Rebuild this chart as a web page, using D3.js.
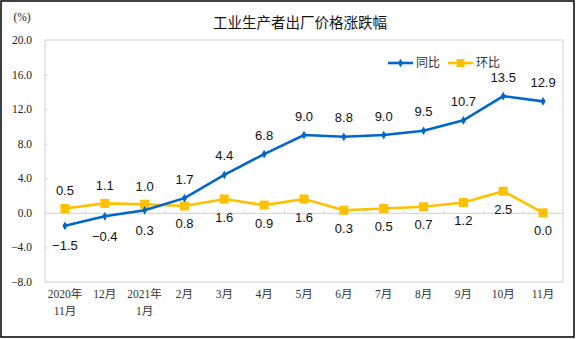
<!DOCTYPE html>
<html><head><meta charset="utf-8">
<script src="https://cdn.jsdelivr.net/npm/d3@7"></script>
<style>body{margin:0;background:#fff}svg{display:block}</style>
</head><body>
<svg id="c" width="576" height="339"></svg>
<script>
const categories = ["2020年\n11月","12月","2021年\n1月","2月","3月","4月","5月","6月","7月","8月","9月","10月","11月"];
const yoy = [-1.5,-0.4,0.3,1.7,4.4,6.8,9.0,8.8,9.0,9.5,10.7,13.5,12.9];
const mom = [0.5,1.1,1.0,0.8,1.6,0.9,1.6,0.3,0.5,0.7,1.2,2.5,0.0];
const yTicks = [-8,-4,0,4,8,12,16,20];
const seriesNames = ["同比","环比"];
const title = "工业生产者出厂价格涨跌幅";
const unit = "(%)";

const svg = d3.select("#c");
const L=45, R=563, T=40, B=282;
const blue="#0066CC", yellow="#FFC000";
const x = d3.scaleBand().domain(d3.range(categories.length)).range([L,R]);
const y = d3.scaleLinear().domain([-8,20]).range([B,T]);
const cx = i => x(i)+x.bandwidth()/2;

svg.append("rect").attr("x",1).attr("y",1).attr("width",573).attr("height",336)
  .attr("fill","#fff").attr("stroke","#000").attr("stroke-width",1.5);

// plot frame
svg.append("rect").attr("x",L).attr("y",T).attr("width",R-L).attr("height",B-T)
  .attr("fill","none").attr("stroke","#d9d9d9").attr("stroke-width",1.2);

// y axis
const ya = svg.append("g").attr("transform",`translate(${L},0)`)
  .call(d3.axisRight(y).tickValues(yTicks).tickSize(3).tickFormat(""));
ya.select(".domain").remove();
ya.selectAll("line").attr("stroke","#d9d9d9");
svg.append("g").selectAll("text").data(yTicks).join("text")
  .attr("x",32).attr("y",d=>y(d)).attr("dy","0.35em").attr("text-anchor","end")
  .attr("font-family","Liberation Serif, serif").attr("font-size",11.5).attr("fill","#222")
  .text(d=>d3.format(".1f")(d));
svg.append("text").attr("x",22).attr("y",21).attr("text-anchor","middle")
  .attr("font-family","Liberation Serif, serif").attr("font-size",11.5).attr("fill","#222").text(unit);

// zero line with ticks
const xa = svg.append("g").attr("transform",`translate(0,${y(0)})`)
  .call(d3.axisTop(d3.scaleLinear().domain([0,categories.length]).range([L,R]))
    .tickValues(d3.range(1,categories.length)).tickSize(3).tickSizeOuter(0).tickFormat(""));
xa.select(".domain").attr("stroke","#d9d9d9").attr("stroke-width",1.2);
xa.selectAll("line").attr("stroke","#d9d9d9");

// x labels
const xl = svg.append("g").selectAll("text").data(categories).join("text")
  .attr("x",(d,i)=>cx(i)).attr("y",298).attr("text-anchor","middle")
  .attr("font-family","Liberation Serif, 'Noto Sans CJK SC', serif").attr("font-size",11.5).attr("fill","#333");
xl.each(function(d){
  const parts=d.split("\n"); const t=d3.select(this);
  parts.forEach((p,k)=>t.append("tspan").attr("x",t.attr("x")).attr("dy",k?17:0).text(p));
});

// title
svg.append("text").attr("x",300).attr("y",28).attr("text-anchor","middle")
  .attr("font-family","'Noto Sans CJK SC', sans-serif").attr("font-size",14.5).attr("fill","#111").text(title);

const line = d3.line().x((d,i)=>cx(i)).y(d=>y(d));
// mom
svg.append("path").datum(mom).attr("d",line).attr("fill","none").attr("stroke",yellow).attr("stroke-width",2.6);
svg.append("g").selectAll("rect").data(mom).join("rect")
  .attr("x",(d,i)=>cx(i)-4.5).attr("y",d=>y(d)-4.5).attr("width",9).attr("height",9).attr("fill",yellow);
// yoy
svg.append("path").datum(yoy).attr("d",line).attr("fill","none").attr("stroke",blue).attr("stroke-width",2.6);
svg.append("g").selectAll("path").data(yoy).join("path")
  .attr("d",d3.symbol(d3.symbolDiamond,22)).attr("transform",(d,i)=>`translate(${cx(i)},${y(d)})`).attr("fill",blue);

const lblFont="Liberation Sans, Arial, sans-serif";
svg.append("g").selectAll("text").data(yoy).join("text")
  .attr("x",(d,i)=>cx(i)).attr("y",(d,i)=>y(d)+(d<1?20:-19)).attr("dy","0.35em")
  .attr("text-anchor","middle").attr("font-family",lblFont).attr("font-size",13).attr("fill","#111")
  .text(d=>d3.format(".1f")(d));
svg.append("g").selectAll("text").data(mom).join("text")
  .attr("x",(d,i)=>cx(i)).attr("y",(d,i)=>y(d)+(i<3?-18:18)).attr("dy","0.35em")
  .attr("text-anchor","middle").attr("font-family",lblFont).attr("font-size",13).attr("fill","#111")
  .text(d=>d3.format(".1f")(d));

// legend
const lg = svg.append("g").attr("font-family","'Noto Sans CJK SC', sans-serif").attr("font-size",12).attr("fill","#333");
[[388,blue],[448,yellow]].forEach(([lx,c],k)=>{
  lg.append("line").attr("x1",lx).attr("x2",lx+25).attr("y1",63).attr("y2",63).attr("stroke",c).attr("stroke-width",2.6);
  if(k===0) lg.append("path").attr("d",d3.symbol(d3.symbolDiamond,22)).attr("transform",`translate(${lx+12.5},63)`).attr("fill",c);
  else lg.append("rect").attr("x",lx+8.5).attr("y",59).attr("width",8).attr("height",8).attr("fill",c);
  lg.append("text").attr("x",lx+28).attr("y",63).attr("dy","0.35em").text(seriesNames[k]);
});
</script>
</body></html>
